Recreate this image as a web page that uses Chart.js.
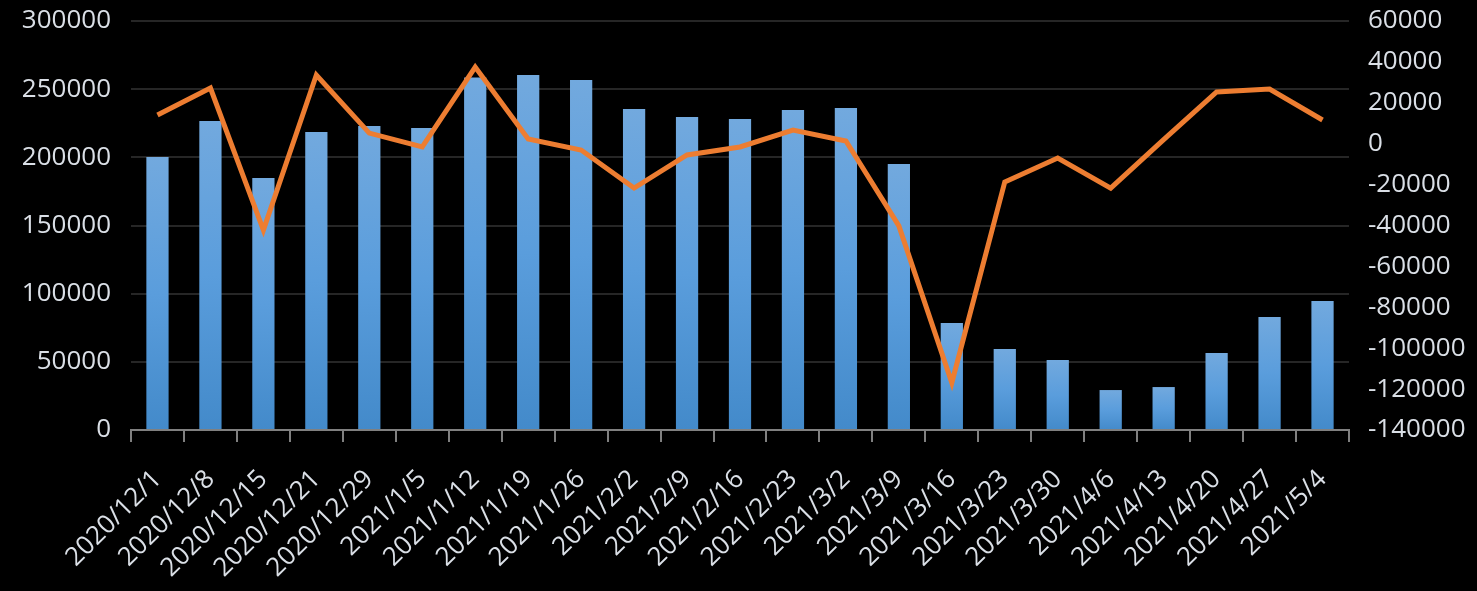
<!DOCTYPE html>
<html>
<head>
<meta charset="utf-8">
<script src="https://cdn.jsdelivr.net/npm/chart.js@4/dist/chart.umd.min.js"></script>
<style>
  html, body { margin: 0; padding: 0; background: #000; }
  #wrap { width: 1477px; height: 591px; }
</style>
</head>
<body>
<div id="wrap"><canvas id="chart" width="1477" height="591"></canvas></div>
<script>
// data
const weeks = ['2020/12/1', '2020/12/8', '2020/12/15', '2020/12/21', '2020/12/29', '2021/1/5',
  '2021/1/12', '2021/1/19', '2021/1/26', '2021/2/2', '2021/2/9', '2021/2/16', '2021/2/23',
  '2021/3/2', '2021/3/9', '2021/3/16', '2021/3/23', '2021/3/30', '2021/4/6', '2021/4/13',
  '2021/4/20', '2021/4/27', '2021/5/4'];
const volumes = [200200, 226600, 184800, 218500, 223000, 221500, 258500, 260300, 256700,
  235400, 229500, 228100, 234700, 236200, 195100, 78500, 59400, 51300, 29300, 31500,
  56500, 82900, 94600];
const changes = [14000, 27200, -42200, 33600, 5200, -1600, 37500, 2300, -3100, -21700,
  -5500, -1600, 6700, 1300, -40200, -116900, -18700, -7000, -21700, 2000, 25300, 26700, 11600];
const leftTicks = [0, 300000, 50000];
const rightTicks = [-140000, 60000, 20000];

const textColor = '#dadfe6';
const font = { family: '"Open Sans", sans-serif', size: 26 };
const plain = v => String(v);

function barFill(ctx) {
  if (ctx.type !== 'data') return '#5b9bd5';
  const chart = ctx.chart;
  const y = chart.scales.y;
  if (!y) return '#5b9bd5';
  const top = y.getPixelForValue(ctx.raw);
  const base = y.getPixelForValue(0);
  if (!isFinite(top) || !isFinite(base) || top === base) return '#5b9bd5';
  const g = chart.ctx.createLinearGradient(0, top, 0, base);
  g.addColorStop(0, '#72a9de');
  g.addColorStop(0.5, '#5a9ddc');
  g.addColorStop(1, '#438aca');
  return g;
}

// keep the plot area where the reference has it
function fixVertical(s, width) {
  s.width = width;
  s.paddingTop = 0;
  s.paddingBottom = 0;
}

new Chart(document.getElementById('chart'), {
  type: 'bar',
  data: {
    labels: weeks,
    datasets: [{
      type: 'line',
      data: changes,
      yAxisID: 'y1',
      borderColor: '#ed7d31',
      borderWidth: 5,
      pointRadius: 0,
      tension: 0,
      order: 0
    }, {
      type: 'bar',
      data: volumes,
      yAxisID: 'y',
      backgroundColor: barFill,
      categoryPercentage: 1,
      barPercentage: 0.42,
      order: 1
    }]
  },
  options: {
    responsive: false,
    animation: false,
    layout: { padding: { top: 21, left: 0, right: 0, bottom: 0 } },
    plugins: { legend: { display: false }, tooltip: { enabled: false } },
    scales: {
      x: {
        grid: { offset: true, drawOnChartArea: false, color: '#808080', lineWidth: 2, tickLength: 12 },
        border: { color: '#808080', width: 2 },
        ticks: { color: textColor, font: font, minRotation: 45, maxRotation: 45, autoSkip: false, padding: 22 },
        afterFit: s => { s.height = 161; s.paddingLeft = 0; s.paddingRight = 0; }
      },
      y: {
        position: 'left',
        min: leftTicks[0], max: leftTicks[1],
        grid: { color: '#262626', lineWidth: 2, drawTicks: false },
        border: { display: false },
        ticks: { color: textColor, font: font, stepSize: leftTicks[2], padding: 20, callback: plain },
        afterFit: s => fixVertical(s, 131)
      },
      y1: {
        position: 'right',
        min: rightTicks[0], max: rightTicks[1],
        grid: { drawOnChartArea: false, drawTicks: false },
        border: { display: false },
        ticks: { color: textColor, font: font, stepSize: rightTicks[2], padding: 19, callback: plain },
        afterFit: s => fixVertical(s, 128)
      }
    }
  }
});
</script>
</body>
</html>
